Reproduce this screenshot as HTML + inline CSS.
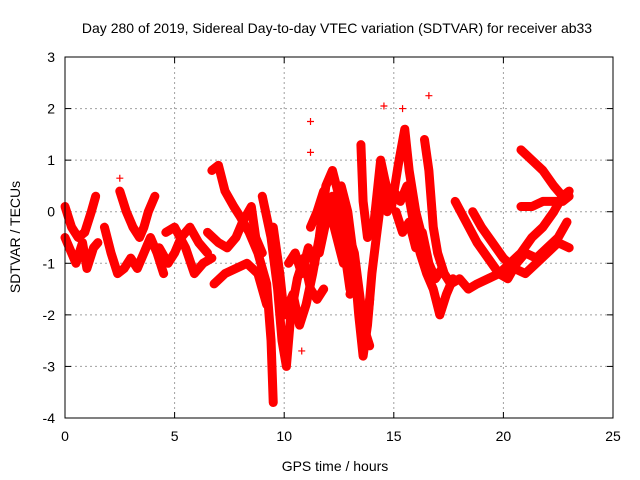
<!DOCTYPE html>
<html><head><meta charset="utf-8"><style>
html,body{margin:0;padding:0;background:#fff;}
svg{display:block;font-family:"Liberation Sans",sans-serif;}
</style></head><body>
<svg id="chart" width="640" height="480">
<text x="337" y="33" text-anchor="middle" font-size="14">Day 280 of 2019, Sidereal Day-to-day VTEC variation (SDTVAR) for receiver ab33</text>
<text x="335" y="471" text-anchor="middle" font-size="14">GPS time / hours</text>
<text transform="translate(20,237) rotate(-90)" text-anchor="middle" font-size="14">SDTVAR / TECUs</text>
<g id="grid"></g>
<g id="ticks"></g>
<g id="marks"></g>
<rect x="65" y="57" width="548" height="361" fill="none" stroke="#000" stroke-width="1"/>
</svg>
<script>
const xTicks=[0,5,10,15,20,25];
const yTicks=[-4,-3,-2,-1,0,1,2,3];
const track1T=[0,0.3,0.6,0.9,1.2,1.4];const track1V=[0.1,-0.3,-0.5,-0.4,0,0.3];
const track2T=[0,0.3,0.5,0.8,1.0,1.3,1.5];const track2V=[-0.5,-0.8,-1,-0.6,-1.1,-0.7,-0.6];
const track3T=[1.8,2.1,2.4,2.7,3.0,3.3,3.6,3.9,4.2,4.5];const track3V=[-0.3,-0.8,-1.2,-1.1,-0.9,-1.1,-0.8,-0.5,-0.8,-1.2];
const track4T=[2.5,2.8,3.1,3.4,3.6,3.8,4.1];const track4V=[0.4,0,-0.3,-0.5,-0.3,0,0.3];
const track5T=[4.3,4.7,5.0,5.3,5.7,6.1,6.5];const track5V=[-0.7,-1.0,-0.8,-0.5,-0.3,-0.6,-0.8];
const track6T=[4.6,5.0,5.5,5.9,6.3,6.7];const track6V=[-0.4,-0.3,-0.7,-1.2,-1.0,-0.9];
const track7T=[6.7,7.0,7.3,7.7,8.0,8.4,8.8,9.2,9.4,9.5];const track7V=[0.8,0.9,0.4,0.1,-0.1,-0.4,-0.8,-1.4,-2.5,-3.7];
const track8T=[6.5,7.0,7.4,7.8,8.1,8.5,8.7,9.0];const track8V=[-0.4,-0.6,-0.7,-0.5,-0.2,0.1,-0.5,-0.8];
const track9T=[6.8,7.3,7.8,8.3,8.8,9.2];const track9V=[-1.4,-1.2,-1.1,-1.0,-1.2,-1.8];
const track10T=[9.0,9.4,9.7,9.9,10.1,10.3,10.6,10.9,11.2,11.5,11.8];const track10V=[0.3,-0.5,-1.5,-2.5,-3.0,-2.0,-1.3,-0.9,-1.5,-1.7,-1.5];
const track11T=[9.5,9.8,10.0,10.4,10.7,11.0,11.3,11.6,11.9,12.2,12.5,12.8,13.1];const track11V=[-0.3,-1.2,-2.0,-1.6,-2.2,-1.8,-1.2,-0.5,0.5,0.8,0.3,-0.7,-1.3];
const track12T=[11.2,11.5,11.8,12.1,12.4,12.7,12.9,13.2,13.5,13.7,13.9];const track12V=[-0.3,0,0.4,0,-0.5,-1.0,-0.4,-0.8,-1.8,-2.5,-1.7];
const track13T=[12.6,12.9,13.2,13.4,13.6,13.8,14.0,14.2,14.5,14.7];const track13V=[0.5,0,-1.0,-2.0,-2.8,-2.2,-1.2,-0.5,0.5,0];
const track14T=[13.5,13.6,13.8,14.1,14.4,14.6,14.9,15.2,15.5,15.7,16.0,16.3];const track14V=[1.3,0.2,-0.5,-0.2,1.0,0.6,0.1,0.9,1.6,0.8,0.0,-0.5];
const track15T=[15.0,15.3,15.6,15.9,16.2,16.5,16.8,17.1,17.4,17.7];const track15V=[0.4,0.2,0.5,-0.2,-0.8,-1.2,-1.5,-2.0,-1.6,-1.3];
const track16T=[16.4,16.6,16.8,17.0,17.3,17.6,18.0,18.4,18.8,19.3,19.8,20.3,20.8,21.3,21.8,22.3,22.7];const track16V=[1.4,0.8,-0.3,-0.8,-1.2,-1.4,-1.3,-1.5,-1.4,-1.3,-1.2,-1.0,-0.8,-0.5,-0.3,0,0.3];
const track17T=[17.8,18.3,18.8,19.3,19.8,20.2,20.6,21.0,21.5,22.0,22.5,22.9];const track17V=[0.2,-0.2,-0.6,-0.9,-1.2,-1.3,-1.0,-0.8,-0.9,-0.7,-0.5,-0.2];
const track18T=[18.6,19.0,19.5,20.0,20.5,21.0,21.5,22.0,22.5,23.0];const track18V=[0,-0.3,-0.6,-0.9,-1.1,-1.2,-1.0,-0.8,-0.6,-0.7];
const track19T=[20.8,21.3,21.8,22.3,22.7,23.0];const track19V=[1.2,1.0,0.8,0.5,0.3,0.4];
const track20T=[20.8,21.3,21.8,22.3,22.7,23.0];const track20V=[0.1,0.1,0.2,0.2,0.2,0.3];
const track21T=[11.6,11.9,12.2,12.5,12.8,13.0];const track21V=[-0.8,-0.2,0.3,-0.2,-0.9,-1.5];
const track22T=[15.1,15.4,15.7,16.0,16.3,16.6,16.9,17.2];const track22V=[0.0,-0.4,-0.2,-0.7,-0.4,-1.0,-1.3,-1.1];
const track23T=[10.2,10.5,10.8,11.1,11.4];const track23V=[-1.0,-0.8,-1.2,-0.7,-1.0];
const track24T=[13.0,13.3,13.6,13.9];const track24V=[-1.6,-1.2,-2.2,-2.6];
const isolatedT=[11.2,11.2,14.55,15.4,16.6,2.5,9.4,10.8];const isolatedV=[1.75,1.15,2.05,2.0,2.25,0.65,-3.0,-2.7];
const tracks=[[track1T,track1V],[track2T,track2V],[track3T,track3V],[track4T,track4V],[track5T,track5V],[track6T,track6V],[track7T,track7V],[track8T,track8V],[track9T,track9V],[track10T,track10V],[track11T,track11V],[track12T,track12V],[track13T,track13V],[track14T,track14V],[track15T,track15V],[track16T,track16V],[track17T,track17V],[track18T,track18V],[track19T,track19V],[track20T,track20V],[track21T,track21V],[track22T,track22V],[track23T,track23V],[track24T,track24V]];

const X0=65,X1=613,Y0=418,Y1=57;
function xs(t){return X0+(t-0)/(25-0)*(X1-X0);}
function ys(v){return Y0-(v+4)/7*(Y0-Y1);}
const NS="http://www.w3.org/2000/svg";
const grid=document.getElementById('grid'),ticks=document.getElementById('ticks'),marks=document.getElementById('marks');
function mk(tag,attrs,parent){const e=document.createElementNS(NS,tag);for(const k in attrs)e.setAttribute(k,attrs[k]);parent.appendChild(e);return e;}
xTicks.forEach(t=>{
  const x=xs(t);
  if(t>0&&t<25){const g=mk('line',{x1:x,x2:x,y1:Y1,y2:Y0,stroke:'#a0a0a0','stroke-dasharray':'2,3'},grid);
  
  }
  mk('line',{x1:x,x2:x,y1:Y0,y2:Y0-6,stroke:'#000'},ticks);
  mk('line',{x1:x,x2:x,y1:Y1,y2:Y1+6,stroke:'#000'},ticks);
  const l=mk('text',{x:x,y:Y0+23,'text-anchor':'middle','font-size':'14'},ticks);l.textContent=t;
  
  
});
yTicks.forEach(v=>{
  const y=ys(v);
  if(v>-4&&v<3){const g=mk('line',{x1:X0,x2:X1,y1:y,y2:y,stroke:'#a0a0a0','stroke-dasharray':'2,3'},grid);
  
  }
  mk('line',{x1:X0,x2:X0+6,y1:y,y2:y,stroke:'#000'},ticks);
  mk('line',{x1:X1,x2:X1-6,y1:y,y2:y,stroke:'#000'},ticks);
  const l=mk('text',{x:X0-10,y:y+5,'text-anchor':'end','font-size':'14'},ticks);l.textContent=v;
  
  
});
function plus(t,v){
  const x=xs(t),y=ys(v);
  const p=mk('path',{d:`M${x-3.5},${y}h7M${x},${y-3.5}v7`,stroke:'#f00','stroke-width':'1.2',fill:'none'},marks);
  
  
}
tracks.forEach((tr,i)=>{
  const pts=tr[0].map((t,j)=>xs(t)+','+ys(tr[1][j])).join(' ');
  const pl=mk('polyline',{points:pts,fill:'none',stroke:'#f00','stroke-width':'9','stroke-linejoin':'round','stroke-linecap':'round'},marks);
  
  
  tr[0].forEach((t,j)=>plus(t,tr[1][j]));
});
isolatedT.forEach((t,j)=>plus(t,isolatedV[j]));
</script>
</body></html>
